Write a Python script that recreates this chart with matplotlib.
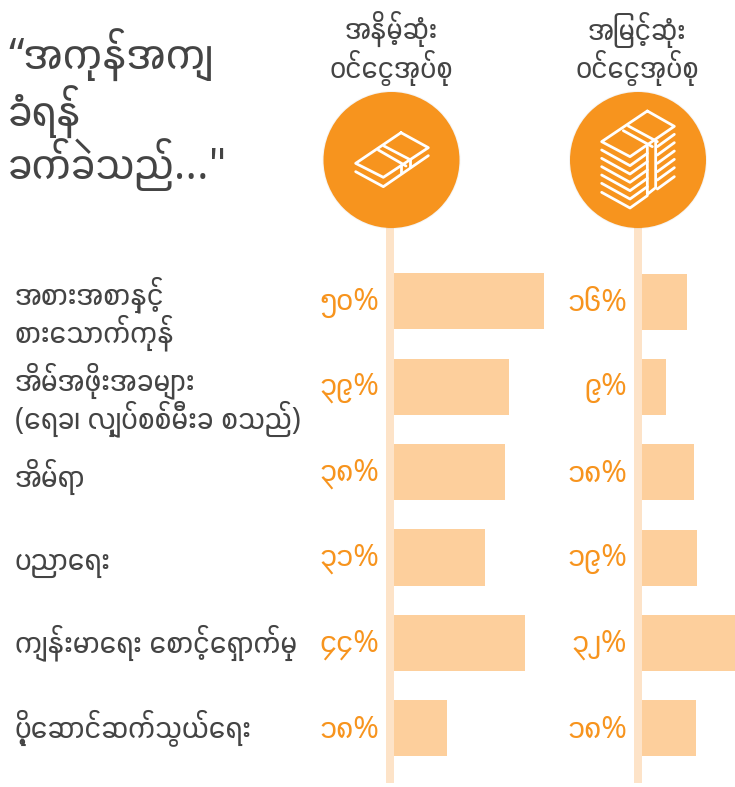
import matplotlib
matplotlib.use("Agg")
import matplotlib.pyplot as plt
from matplotlib.patches import Circle, Rectangle
import re

categories = ["အစားအစာနှင့်\nစားသောက်ကုန်",
              "အိမ်အဖိုးအခများ\n(ရေခ၊ လျှပ်စစ်မီးခ စသည်)",
              "အိမ်ရာ",
              "ပညာရေး",
              "ကျန်းမာရေး စောင့်ရှောက်မှု",
              "ပို့ဆောင်ဆက်သွယ်ရေး"]
low_values = [50, 38.3, 37, 30.3, 43.7, 17.7]
high_values = [15, 8, 17.3, 18.3, 31, 18]
low_labels = ["၅၀%", "၃၉%", "၃၈%", "၃၁%", "၄၄%", "၁၈%"]
high_labels = ["၁၆%", "၉%", "၁၈%", "၁၉%", "၃၂%", "၁၈%"]
title_lines = ["“အကုန်အကျ", "ခံရန်", "ခက်ခဲသည်...\""]
low_head = ["အနိမ့်ဆုံး", "ဝင်ငွေအုပ်စု"]
high_head = ["အမြင့်ဆုံး", "ဝင်ငွေအုပ်စု"]

W, H = 735, 787
ORANGE = "#F7941E"
BAR = "#FDCF9C"
STRIP = "#FDE3C8"
DARK = "#444444"

plt.rcParams["font.family"] = ["Myanmar Sans Pro", "Open Sans", "DejaVu Sans"]


def shaped(s):
    # matplotlib has no Myanmar shaping, so put the vowel sign e and medial ra
    # in front of their consonant, the way they are drawn
    s = re.sub("([က-အ])(ြ?)([ျွှ]*)ေ", "ေ\\2\\1\\3", s)
    s = re.sub("([က-အ])ြ", "ြ\\1", s)
    return s


fig = plt.figure(figsize=(W / 100, H / 100), dpi=100)
bg = fig.add_axes([0, 0, 1, 1])
bg.set_xlim(0, W)
bg.set_ylim(H, 0)
bg.axis("off")


def bar_axes(left, width, top, bottom, xmax):
    ax = fig.add_axes([left / W, 1 - bottom / H, width / W, (bottom - top) / H])
    ax.set_xlim(0, xmax)
    ax.set_ylim(5.5, -0.5)
    ax.axis("off")
    return ax


def draw_bars(ax, values, labels):
    ax.barh(range(len(values)), values, height=0.656, color=BAR)
    for i, lab in enumerate(labels):
        ax.annotate(shaped(lab), (0, i), xytext=(-10.8, -1), textcoords="offset points",
                    ha="right", va="center", color=ORANGE, fontsize=22.4)


draw_bars(bar_axes(394, 170, 258.6, 771, 170 / 3), low_values, low_labels)
draw_bars(bar_axes(642, 93, 259, 771, 31), high_values, high_labels)

# strips and circles
for x, cx in [(386, 391.5), (634, 638)]:
    bg.add_patch(Rectangle((x, 220), 8, 563, color=STRIP, lw=0, zorder=1))
    bg.add_patch(Circle((cx, 160), 69, color="#999999", alpha=0.1, lw=0, zorder=2))
    bg.add_patch(Circle((cx, 160), 68, color=ORANGE, lw=0, zorder=3))


def icon_line(pts, ox):
    xs = [ox + p[0] / 3 for p in pts]
    ys = [85 + p[1] / 3 for p in pts]
    bg.plot(xs, ys, color="white", lw=2, zorder=4, solid_joinstyle="round", solid_capstyle="round")


# small stack icon
icon_line([(243, 143), (325, 188), (190, 277), (107, 235), (243, 143)], 320)
icon_line([(175, 195), (258, 243)], 320)
icon_line([(192, 183), (272, 225)], 320)
icon_line([(107, 260), (190, 305), (325, 212)], 320)
icon_line([(243, 240), (243, 264)], 320)
icon_line([(270, 225), (270, 245)], 320)

# tall stack icon
icon_line([(247, 78), (328, 124), (195, 215), (110, 170), (247, 78)], 565)
icon_line([(175, 137), (262, 185)], 565)
icon_line([(190, 123), (277, 170)], 565)
for y in [195, 220, 245, 270, 295, 322]:
    icon_line([(110, y), (195, y + 47), (247, y + 10)], 565)
    icon_line([(277, y - 10), (328, y - 47)], 565)
icon_line([(247, 185), (247, 328), (272, 308), (272, 170)], 565)

# text
for y, line in zip([55, 112, 165], title_lines):
    bg.text(8, y, shaped(line), fontsize=32, color=DARK, va="center", ha="left")
for cx, head in [(391, low_head), (637, high_head)]:
    bg.text(cx, 30, shaped(head[0]), fontsize=21.3, color=DARK, ha="center", va="center")
    bg.text(cx, 68, shaped(head[1]), fontsize=21.3, color=DARK, ha="center", va="center")
cat_y = [(295, 333), (381, 419), (477,), (563,), (643,), (728,)]
for name, ys in zip(categories, cat_y):
    for y, line in zip(ys, name.split("\n")):
        bg.text(15, y, shaped(line), fontsize=22, color=DARK, ha="left", va="center")

fig.savefig("out.png", dpi=100)
